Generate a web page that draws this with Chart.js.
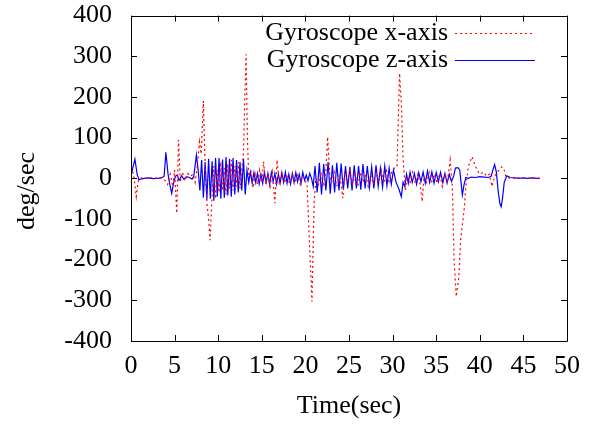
<!DOCTYPE html>
<html>
<head>
<meta charset="utf-8">
<script src="https://cdn.jsdelivr.net/npm/chart.js@4.4.1/dist/chart.umd.min.js"></script>
<style>
  html, body { margin: 0; padding: 0; background: #fff; }
  #wrap { width: 593px; height: 426px; }
</style>
</head>
<body>
<div id="wrap"><canvas id="chart"></canvas></div>
<script>
// Gyroscope x-axis (red, dotted)
var xTime = [0, 0.3, 0.6, 0.8, 1.0, 1.5, 2.0, 2.5, 3.0, 3.5, 3.9, 4.2, 4.5, 4.8, 5.0, 5.25, 5.45, 5.65, 5.9, 6.2,
  6.5, 6.8, 7.1, 7.35, 7.6, 7.85, 8.05, 8.3, 8.5, 8.7, 8.9, 9.07, 9.3, 9.5, 9.7, 9.9, 10.1, 10.3, 10.5, 10.7,
  10.9, 11.1, 11.3, 11.5, 11.7, 11.9, 12.1, 12.3, 12.5, 12.7, 12.9, 13.05, 13.2, 13.35, 13.5, 13.75, 14.0, 14.25, 14.5, 14.75,
  15.0, 15.2, 15.45, 15.7, 15.95, 16.2, 16.5, 16.75, 17.0, 17.3, 17.6, 17.9, 18.2, 18.5, 18.8, 19.1, 19.4, 19.7, 20.0, 20.2,
  20.45, 20.75, 21.0, 21.2, 21.5, 21.8, 22.1, 22.35, 22.55, 22.8, 23.0, 23.3, 23.6, 23.9, 24.1, 24.3, 24.5, 24.8, 25.1, 25.4,
  25.7, 26.0, 26.3, 26.6, 26.9, 27.2, 27.5, 27.8, 28.1, 28.4, 28.7, 29.0, 29.3, 29.6, 29.9, 30.2, 30.5, 30.8, 31.0, 31.2,
  31.45, 31.7, 32.0, 32.3, 32.6, 32.9, 33.15, 33.4, 33.6, 33.9, 34.2, 34.5, 34.8, 35.1, 35.4, 35.7, 36.0, 36.3, 36.6, 36.85,
  37.05, 37.3, 37.6, 37.8, 38.2, 38.4, 38.7, 39.1, 39.4, 39.7, 40.0, 40.4, 40.8, 41.1, 41.4, 41.7, 42.0, 42.5, 42.75, 43.0,
  43.5, 44.0, 45.0, 46.0, 46.9];
var xValues = [28, 10, -45, -10, 0, 2, -1, 2, 0, 2, -5, -15, 10, -20, 20, -86, 94, -10, 15, -5,
  12, 5, 10, -10, 30, 90, 60, 190, 30, -60, -100, -152, -40, 30, -50, 20, -35, 40, -30, 25,
  -40, 35, -25, 45, -30, 30, -20, 40, -25, 20, 62, 200, 305, 100, 5, 20, -24, 10, -15, 20,
  -10, 41, -15, 10, -20, 15, -61, 45, -10, 15, -12, 10, -15, 12, -10, 8, -15, 5, -5, -20,
  -150, -303, -60, 0, -15, 10, -20, 20, 102, 5, -10, 15, -20, 10, -15, -49, 10, -10, 20, -15,
  10, -20, 15, -10, 12, -20, 10, -15, 15, -10, 20, -12, 18, -8, 15, 25, 28, 258, 185, 50,
  -29, 5, -10, 15, -12, 10, -15, -57, 5, -10, 15, -8, 10, -12, 12, -20, 10, -5, 45, -20,
  -200, -291, -242, -152, -78, -20, 30, 53, 35, 20, 10, 15, 5, 10, -20, 5, 15, 28, 25, 3,
  0, 1, 0, 1, 0];

// Gyroscope z-axis (blue, solid)
var zTime = [0, 0.2, 0.45, 0.7, 0.9, 1.5, 2.0, 2.5, 3.0, 3.5, 3.8, 4.0, 4.25, 4.45, 4.67, 4.9, 5.1, 5.3, 5.5, 5.8,
  6.1, 6.4, 6.7, 7.0, 7.2, 7.5, 7.7, 7.9, 8.1, 8.3, 8.5, 8.7, 8.9, 9.1, 9.3, 9.5, 9.7, 9.9, 10.1, 10.3,
  10.5, 10.7, 10.9, 11.1, 11.3, 11.5, 11.7, 11.9, 12.1, 12.3, 12.5, 12.7, 12.9, 13.1, 13.3, 13.5, 13.7, 13.9, 14.1, 14.3,
  14.5, 14.7, 14.9, 15.1, 15.3, 15.5, 15.7, 15.9, 16.1, 16.3, 16.5, 16.7, 16.9, 17.1, 17.3, 17.5, 17.7, 17.9, 18.1, 18.3,
  18.5, 18.7, 18.9, 19.1, 19.3, 19.5, 19.7, 19.9, 20.1, 20.3, 20.5, 20.7, 20.9, 21.1, 21.35, 21.6, 21.85, 22.1, 22.35, 22.6,
  22.85, 23.1, 23.35, 23.6, 23.85, 24.1, 24.35, 24.6, 24.85, 25.1, 25.35, 25.6, 25.85, 26.1, 26.35, 26.6, 26.85, 27.1, 27.35, 27.6,
  27.85, 28.1, 28.35, 28.6, 28.85, 29.1, 29.35, 29.6, 29.85, 30.1, 30.4, 30.7, 31.0, 31.2, 31.4, 31.6, 31.8, 32.0, 32.25, 32.5,
  32.75, 33.0, 33.25, 33.5, 33.75, 34.0, 34.25, 34.5, 34.75, 35.0, 35.25, 35.5, 35.75, 36.0, 36.25, 36.5, 36.75, 37.0, 37.2, 37.5,
  37.7, 37.85, 38.0, 38.2, 38.4, 38.7, 39.0, 39.5, 40.0, 40.5, 41.0, 41.3, 41.5, 41.7, 41.9, 42.1, 42.3, 42.45, 42.6, 42.8,
  43.1, 43.5, 44.0, 44.5, 45.0, 45.5, 46.0, 46.5, 46.9];
var zValues = [5, 25, 47, 10, -3, 0, 1, -1, 0, 1, 5, 64, 10, -15, -37, -10, 5, 8, -5, 6,
  -3, 4, 2, -2, 5, 57, 20, -30, 45, -48, 40, -52, 48, -50, 42, -55, 50, -45, 50, -50,
  46, -48, 52, -42, 48, -45, 50, -40, 45, -35, 40, -30, 48, -40, 20, -10, 15, -12, 14, -10,
  12, -14, 10, -12, 15, -10, 12, -15, 14, -8, 12, -14, 10, -12, 14, -10, 15, -12, 10, -14,
  12, -10, 14, -8, 10, -12, 15, -5, 8, -6, 12, 0, -20, 30, -35, 38, -40, 35, -30, 40,
  -38, 32, -35, 38, -30, 36, -28, 30, -25, 28, -30, 32, -25, 30, -28, 35, -25, 30, -22, 28,
  -25, 32, -20, 25, -22, 30, -18, 25, -15, 20, -10, -25, -45, -10, -20, 10, -12, 15, -10, 12,
  -15, 14, -8, 15, -12, 18, -10, 16, -12, 14, -8, 15, -10, 12, -12, 10, -8, 5, 25, 26,
  20, -10, -41, -15, 2, 0, 3, 2, 4, 3, 2, 5, 20, 34, 15, -30, -62, -70, -50, -10,
  6, 2, 1, 0, 1, 0, 1, 0, 0];

var xTicks = [0, 5, 10, 15, 20, 25, 30, 35, 40, 45, 50];
var yTicks = [-400, -300, -200, -100, 0, 100, 200, 300, 400];

var labelX = "Gyroscope x-axis";
var labelZ = "Gyroscope z-axis";

function toPoints(times, values) {
  return times.map(function (t, i) { return { x: t, y: values[i] }; });
}

var serif = "'Liberation Serif', 'Times New Roman', serif";

// border, inward ticks on all four sides, legend inside plot, y title
var frame = {
  id: "frame",
  afterDatasetsDraw: function (chart) {
    var ctx = chart.ctx, a = chart.chartArea;
    var xs = chart.scales.x, ys = chart.scales.y;
    ctx.save();
    ctx.strokeStyle = "#000";
    ctx.lineWidth = 1;
    ctx.beginPath();
    xs.ticks.forEach(function (t) {
      var px = Math.round(xs.getPixelForValue(t.value)) + 0.5;
      ctx.moveTo(px, a.bottom); ctx.lineTo(px, a.bottom - 6);
      ctx.moveTo(px, a.top); ctx.lineTo(px, a.top + 6);
    });
    ys.ticks.forEach(function (t) {
      var py = Math.round(ys.getPixelForValue(t.value)) + 0.5;
      ctx.moveTo(a.left, py); ctx.lineTo(a.left + 6, py);
      ctx.moveTo(a.right, py); ctx.lineTo(a.right - 6, py);
    });
    ctx.rect(Math.round(a.left) + 0.5, Math.round(a.top) + 0.5,
      Math.round(a.right - a.left), Math.round(a.bottom - a.top));
    ctx.stroke();

    // legend
    ctx.font = "26px " + serif;
    ctx.fillStyle = "#000";
    ctx.textAlign = "right";
    ctx.textBaseline = "middle";
    ctx.fillText(labelX, 448, 33);
    ctx.fillText(labelZ, 448, 60);
    ctx.beginPath();
    ctx.strokeStyle = "#ff0000";
    ctx.setLineDash([2, 3]);
    ctx.moveTo(455, 33.5); ctx.lineTo(535, 33.5);
    ctx.stroke();
    ctx.beginPath();
    ctx.setLineDash([]);
    ctx.strokeStyle = "#0000ff";
    ctx.moveTo(455, 60.5); ctx.lineTo(535, 60.5);
    ctx.stroke();

    // y title
    ctx.translate(27, 191);
    ctx.rotate(-Math.PI / 2);
    ctx.textAlign = "center";
    ctx.fillText("deg/sec", 0, 0);
    ctx.restore();
  }
};

var ctx = document.getElementById("chart").getContext("2d");
var myChart = new Chart(ctx, {
  type: "line",
  data: {
    datasets: [
      {
        label: labelX,
        data: toPoints(xTime, xValues),
        borderColor: "#ff0000",
        borderWidth: 1.2,
        borderDash: [2, 3],
        pointRadius: 0,
        tension: 0,
        fill: false,
      },
      {
        label: labelZ,
        data: toPoints(zTime, zValues),
        borderColor: "#0000ff",
        borderWidth: 1.2,
        pointRadius: 0,
        tension: 0,
        fill: false,
      },
    ],
  },
  options: {
    responsive: true,
    maintainAspectRatio: false,
    animation: false,
    layout: { padding: { top: 15, right: 26, left: 0, bottom: 0 } },
    plugins: {
      legend: { display: false },
      tooltip: { enabled: false },
    },
    scales: {
      x: {
        type: "linear",
        min: 0,
        max: 50,
        afterBuildTicks: function (scale) {
          scale.ticks = xTicks.map(function (v) { return { value: v }; });
        },
        afterFit: function (scale) { scale.height = 85; },
        grid: { display: false, drawTicks: false },
        border: { display: false },
        ticks: {
          color: "#000",
          padding: 10,
          maxRotation: 0,
          font: { family: serif, size: 26 },
        },
        title: {
          display: true,
          text: "Time(sec)",
          color: "#000",
          padding: { top: 2 },
          font: { family: serif, size: 26 },
        },
      },
      y: {
        min: -400,
        max: 400,
        afterBuildTicks: function (scale) {
          scale.ticks = yTicks.map(function (v) { return { value: v }; });
        },
        afterFit: function (scale) { scale.width = 131; },
        grid: {
          display: true,
          drawOnChartArea: false,
          drawTicks: true,
          tickLength: 19,
          color: "rgba(0,0,0,0)",
        },
        border: { display: false },
        ticks: {
          color: "#000",
          padding: 0,
          font: { family: serif, size: 26 },
        },
      },
    },
  },
  plugins: [frame],
});
</script>
</body>
</html>
